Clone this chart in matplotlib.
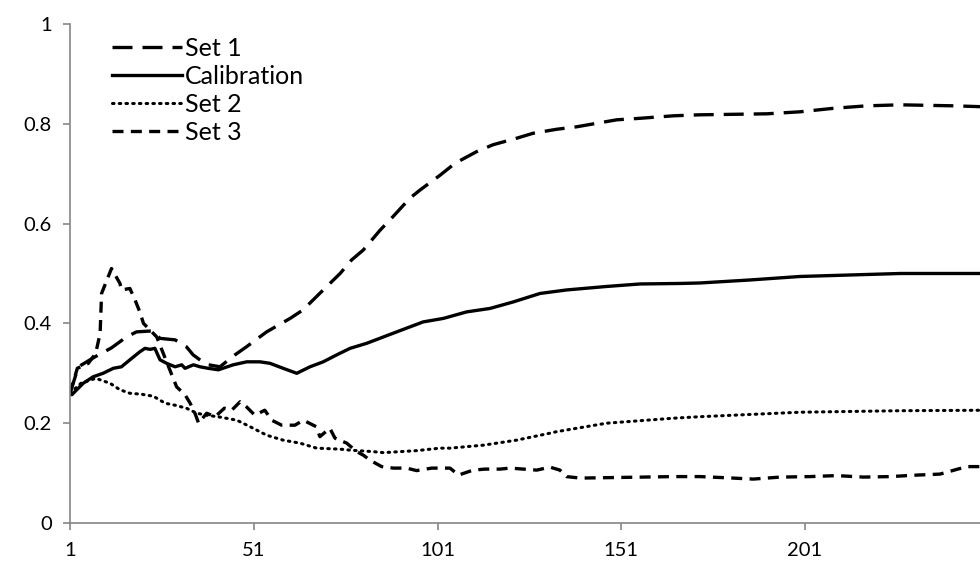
import matplotlib.pyplot as plt

# values
x_set1 = [1, 3.3, 7.8, 12.3, 16.4, 19.1, 23.5, 25.5, 29.6, 32.7, 34.5, 38, 41.8, 45.9, 49, 54.5,
          60.9, 64.4, 69.9, 74.5, 77.6, 80.8, 85.4, 88.9, 93.5, 96.2, 101.7, 105.8, 111.6, 116.1,
          122.5, 127, 133.4, 138.9, 144.3, 149.8, 156.1, 165.2, 172.4, 190.6, 199.6, 208.7,
          217.8, 226.9, 241.4, 250]
set1 = [0.26, 0.313, 0.333, 0.351, 0.373, 0.383, 0.385, 0.37, 0.367, 0.353, 0.337, 0.318, 0.313,
        0.337, 0.353, 0.383, 0.41, 0.427, 0.467, 0.5, 0.527, 0.547, 0.587, 0.614, 0.651, 0.667,
        0.697, 0.721, 0.744, 0.758, 0.771, 0.781, 0.789, 0.794, 0.801, 0.808, 0.811, 0.816,
        0.818, 0.82, 0.824, 0.831, 0.836, 0.838, 0.836, 0.834]

x_cal = [1, 1.5, 4.6, 7.3, 10, 12.8, 15, 17.8, 20, 21.4, 22.8, 24.1, 25.5, 27.3, 29.6, 31.4, 32.3,
         34.6, 36.4, 38.6, 41.4, 45.4, 49.1, 52.7, 55.4, 59, 62.7, 66.3, 69.9, 73.6, 77.2, 81.7,
         89.9, 97.1, 102.6, 108.9, 115.3, 121.6, 128.9, 136.1, 147, 156.1, 166.9, 172.4, 186,
         199.6, 226.9, 250]
calibration = [0.26, 0.257, 0.28, 0.293, 0.3, 0.31, 0.313, 0.33, 0.343, 0.35, 0.348, 0.35, 0.327,
               0.32, 0.313, 0.317, 0.31, 0.317, 0.313, 0.31, 0.307, 0.317, 0.323, 0.323, 0.32,
               0.31, 0.3, 0.313, 0.323, 0.337, 0.35, 0.36, 0.383, 0.403, 0.41, 0.423, 0.43, 0.443,
               0.46, 0.467, 0.474, 0.479, 0.48, 0.481, 0.487, 0.494, 0.5, 0.5]

x_set2 = [1, 4, 8, 11.9, 14.6, 17.3, 20.5, 23.7, 26.9, 29.6, 32.7, 35.5, 38.2, 42, 46.4, 50, 54.5,
          59, 63.6, 68.1, 74.5, 77.2, 83.5, 86.3, 95.3, 101.7, 104.4, 113.5, 119.8, 122.5, 131.6,
          133.4, 147, 165.2, 172.4, 199.6, 226.9, 250]
set2 = [0.26, 0.28, 0.29, 0.28, 0.267, 0.26, 0.258, 0.254, 0.24, 0.236, 0.23, 0.22, 0.216, 0.212,
        0.206, 0.193, 0.176, 0.166, 0.16, 0.15, 0.148, 0.146, 0.143, 0.141, 0.145, 0.15, 0.15,
        0.156, 0.163, 0.166, 0.18, 0.183, 0.2, 0.21, 0.213, 0.222, 0.225, 0.226]

x_set3 = [1, 3, 6, 8, 9.2, 9.6, 12.3, 14.6, 15, 17.3, 18.7, 20, 21, 23, 24.6, 28.7, 30, 32.3, 33.7,
          35, 36, 38.2, 40.5, 43, 45, 47.3, 49, 51.3, 54, 55.9, 58.6, 62.2, 64.5, 68, 69, 71.7,
          73.1, 76.3, 79, 80.8, 82.6, 85.8, 89, 92.6, 95.3, 99.4, 102.6, 104.4, 106.7, 110.7,
          113.9, 118, 120.7, 124.4, 128, 131.6, 134.3, 136.1, 139.8, 165.2, 172.4, 181.5, 186.9,
          194.2, 202.4, 209.6, 216.9, 224.1, 231.4, 237.7, 245, 250]
set3 = [0.26, 0.31, 0.32, 0.34, 0.38, 0.46, 0.51, 0.48, 0.467, 0.47, 0.447, 0.423, 0.4, 0.385,
        0.373, 0.297, 0.273, 0.257, 0.24, 0.22, 0.2, 0.22, 0.213, 0.23, 0.226, 0.243, 0.233,
        0.216, 0.226, 0.206, 0.196, 0.196, 0.206, 0.193, 0.173, 0.19, 0.17, 0.16, 0.143, 0.136,
        0.126, 0.113, 0.11, 0.11, 0.105, 0.11, 0.11, 0.11, 0.096, 0.106, 0.108, 0.108, 0.11,
        0.108, 0.106, 0.112, 0.106, 0.093, 0.09, 0.093, 0.093, 0.09, 0.088, 0.092, 0.093, 0.095,
        0.092, 0.093, 0.096, 0.098, 0.113, 0.113]

x_ticks = [1, 51, 101, 151, 201]
y_ticks = [0, 0.2, 0.4, 0.6, 0.8, 1]

plt.rcParams['font.family'] = ['Lato', 'DejaVu Sans']

fig = plt.figure(figsize=(9.8, 5.67), dpi=100)
ax = fig.add_axes([0.0714, 0.0776, 0.9286, 0.8801])

lw = 2.4
ax.plot(x_set1, set1, color='black', lw=lw, linestyle=(0, (6, 3)), label='Set 1')
ax.plot(x_cal, calibration, color='black', lw=lw, label='Calibration')
ax.plot(x_set2, set2, color='black', lw=2.2, linestyle=(0, (0.5, 1.7)),
        dash_capstyle='round', label='Set 2')
ax.plot(x_set3, set3, color='black', lw=lw, linestyle=(0, (3.3, 2.2)), label='Set 3')

ax.set_xlim(1, 248.6)
ax.set_ylim(0, 1)
ax.set_xticks(x_ticks)
ax.set_xticklabels([str(t) for t in x_ticks])
ax.set_yticks(y_ticks)
ax.set_yticklabels(['0', '0.2', '0.4', '0.6', '0.8', '1'])

for s in ['top', 'right']:
    ax.spines[s].set_visible(False)
for s in ['left', 'bottom']:
    ax.spines[s].set_color('#868686')
    ax.spines[s].set_linewidth(1.2)
ax.tick_params(axis='both', colors='#868686', labelcolor='black', labelsize=14.5,
               length=5, width=1.2, direction='out')
ax.tick_params(axis='y', pad=8)
ax.tick_params(axis='x', pad=9)

ax.legend(loc='upper left', bbox_to_anchor=(0.021, 1.02), frameon=False, fontsize=18,
          handlelength=2.8, handletextpad=0.12, labelspacing=0.2)

fig.savefig('out.png', dpi=100)
